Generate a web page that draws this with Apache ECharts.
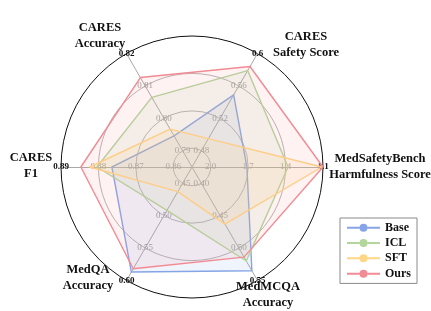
<!DOCTYPE html>
<html>
<head>
<meta charset="utf-8">
<script src="https://cdn.jsdelivr.net/npm/echarts@6/dist/echarts.min.js"></script>
<style>
  html, body { margin: 0; padding: 0; background: #fff; }
  #chart { width: 431px; height: 311px; }
</style>
</head>
<body>
<div id="chart"></div>
<script>
// axes, counter-clockwise from the right
const indicatorNames = [
  'MedSafetyBench\nHarmfulness Score',
  'CARES\nSafety Score',
  'CARES\nAccuracy',
  'CARES\nF1',
  'MedQA\nAccuracy',
  'MedMCQA\nAccuracy'
]
// harmfulness: lower is better, axis runs 2.0 -> 1.1 outward
const reversedAxis = [true, false, false, false, false, false]

// tick labels per axis, inner ring to outer ring
const tickLabels = [
  ['2.0', '1.7', '1.4', '1.1'],
  ['0.48', '0.52', '0.56', '0.6'],
  ['0.79', '0.80', '0.81', '0.82'],
  ['0.86', '0.87', '0.88', '0.89'],
  ['0.45', '0.50', '0.55', '0.60'],
  ['0.40', '0.45', '0.50', '0.55']
]

const seriesNames = ['Base', 'ICL', 'SFT', 'Ours']
const baseValues = [1.71, 0.549, 0.7946, 0.8764, 0.587, 0.535]
const iclValues = [1.38, 0.579, 0.8065, 0.8804, 0.492, 0.520]
const sftValues = [1.11, 0.495, 0.7967, 0.8823, 0.463, 0.463]
const oursValues = [1.10, 0.584, 0.8126, 0.8847, 0.582, 0.514]

const lineColors = ['#87a5e6', '#b2d69b', '#ffd685', '#f28b93']
const areaColors = [
  'rgba(135,165,230,0.18)',
  'rgba(178,214,155,0.18)',
  'rgba(255,214,133,0.22)',
  'rgba(242,139,147,0.16)'
]

// where the axis titles sit (centre of each two-line block)
const namePositions = [[380, 166.5], [306, 45], [100, 36], [31, 166], [88, 277.5], [268, 295]]

const serif = 'Liberation Serif'

function signed(i, v) {
  return reversedAxis[i] ? -v : v
}

const indicators = indicatorNames.map((name, i) => {
  const ticks = tickLabels[i].map(t => signed(i, parseFloat(t)))
  const step = ticks[1] - ticks[0]
  return {
    name: name,
    // half a step below the first ring sits at the centre
    min: +(ticks[0] - step / 2).toFixed(4),
    max: ticks[ticks.length - 1],
    axisLabel: {
      formatter: function (v) {
        const k = ticks.findIndex(t => Math.abs(t - v) < step / 4)
        if (k < 0) return ''
        return (k === ticks.length - 1 ? '{o|' : '{i|') + tickLabels[i][k] + '}'
      }
    }
  }
})

const allValues = [baseValues, iclValues, sftValues, oursValues]

const chart = echarts.init(document.getElementById('chart'), null, { renderer: 'canvas' })

chart.setOption({
  backgroundColor: '#fff',
  animation: false,
  legend: {
    orient: 'vertical',
    left: 340,
    top: 218,
    padding: [3, 6, 3, 7],
    itemGap: 1.8,
    itemWidth: 33,
    itemHeight: 8,
    borderColor: '#8a8a8a',
    borderWidth: 1,
    icon: 'path://M0,3 H12.5 V5 H0 Z M20.5,3 H33 V5 H20.5 Z M20.5,4 A4,4 0 1 1 12.5,4 A4,4 0 1 1 20.5,4 Z',
    textStyle: {
      fontFamily: serif,
      fontWeight: 'bold',
      fontSize: 12,
      lineHeight: 13.5,
      color: '#111'
    },
    data: seriesNames
  },
  graphic: indicatorNames.map((name, i) => ({
    type: 'text',
    x: namePositions[i][0],
    y: namePositions[i][1],
    style: {
      text: name,
      fill: '#111',
      font: 'bold 12.5px "Liberation Serif"',
      lineHeight: 16,
      align: 'center',
      verticalAlign: 'middle'
    }
  })),
  radar: {
    center: [192, 167],
    radius: 131,
    startAngle: 0,
    shape: 'circle',
    splitNumber: 7,
    axisName: { show: false },
    axisLine: { lineStyle: { color: '#a8a8a8', width: 1 } },
    axisTick: { show: false },
    axisLabel: {
      show: true,
      margin: 0,
      align: 'center',
      verticalAlign: 'middle',
      fontFamily: serif,
      fontSize: 9,
      rich: {
        i: { fontFamily: serif, fontSize: 9, color: '#9a9a9a' },
        o: { fontFamily: serif, fontSize: 9, fontWeight: 'bold', color: '#111' }
      }
    },
    splitLine: {
      lineStyle: {
        width: 1,
        color: ['rgba(0,0,0,0)', '#b4b4b4', 'rgba(0,0,0,0)', '#b4b4b4',
          'rgba(0,0,0,0)', '#b4b4b4', 'rgba(0,0,0,0)', '#111']
      }
    },
    splitArea: { show: false },
    indicator: indicators
  },
  series: [{
    type: 'radar',
    symbol: 'none',
    data: seriesNames.map((name, s) => ({
      name: name,
      value: allValues[s].map((v, i) => signed(i, v)),
      itemStyle: { color: lineColors[s] },
      lineStyle: { color: lineColors[s], width: 1.4 },
      areaStyle: { color: areaColors[s] }
    }))
  }]
})
</script>
</body>
</html>
